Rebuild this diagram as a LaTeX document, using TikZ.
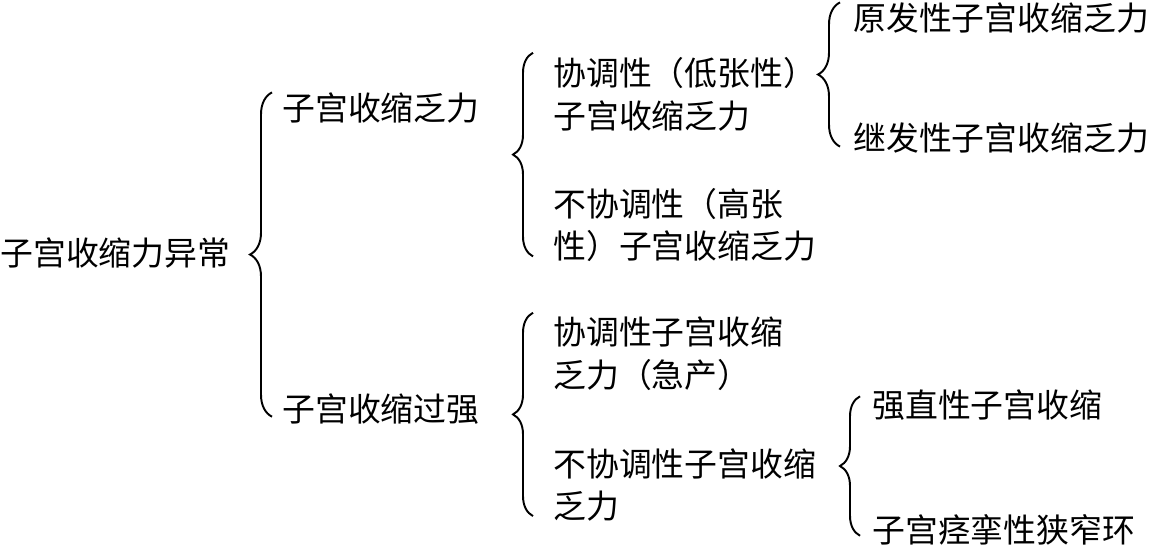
\documentclass[tikz,border=0pt]{standalone}
\usepackage{fontspec}
\newfontfamily\cjk{Noto Sans CJK SC}
\usetikzlibrary{positioning, decorations.pathreplacing}

\begin{document}
\begin{tikzpicture}[x=0.02cm, y=-0.02cm,
    label/.style={inner sep=0pt, anchor=west, align=left,
                  font=\cjk\fontsize{18.7}{24.4}\selectfont},
    curly/.style={decorate, line width=1.1pt,
                  decoration={brace, amplitude=#1}},
    curly/.default=0.42cm]

\useasboundingbox (0,0) rectangle (1152,547);

% Root
\node[label] (root) at (0,253) {子宫收缩力异常};

% Level 1
\node[label] (weak) at (282,108) {子宫收缩乏力};
\node[label] (strong) at (282,409) {子宫收缩过强};

% Level 2
\node[label] (coweak) at (553,94) {协调性（低张性）\\子宫收缩乏力};
\node[label] (inweak) at (553,225) {不协调性（高张\\性）子宫收缩乏力};
\node[label] (costrong) at (553,354) {协调性子宫收缩\\乏力（急产）};
\node[label] (instrong) at (553,485) {不协调性子宫收缩\\乏力};

% Level 3
\node[label] (primary) at (853,18) {原发性子宫收缩乏力};
\node[label] (secondary) at (853,138) {继发性子宫收缩乏力};
\node[label] (tetanic) at (872,405) {强直性子宫收缩};
\node[label] (ring) at (872,530) {子宫痉挛性狭窄环};

% Braces
\draw[curly=0.44cm] ([shift={(-10,-8)}]strong.south west) -- ([xshift=-0.2cm]weak.north west);
\draw[curly=0.40cm] ([shift={(-20,-6)}]inweak.south west) -- ([shift={(-20,-4)}]coweak.north west);
\draw[curly=0.40cm] ([shift={(-20,-6)}]instrong.south west) -- ([shift={(-20,-4)}]costrong.north west);
\draw[curly=0.44cm] ([shift={(-13,-7)}]secondary.south west) -- ([xshift=-0.26cm]primary.north west);
\draw[curly=0.40cm] ([shift={(-12,-10)}]ring.south west) -- ([shift={(-12,7)}]tetanic.north west);

\end{tikzpicture}
\end{document}
